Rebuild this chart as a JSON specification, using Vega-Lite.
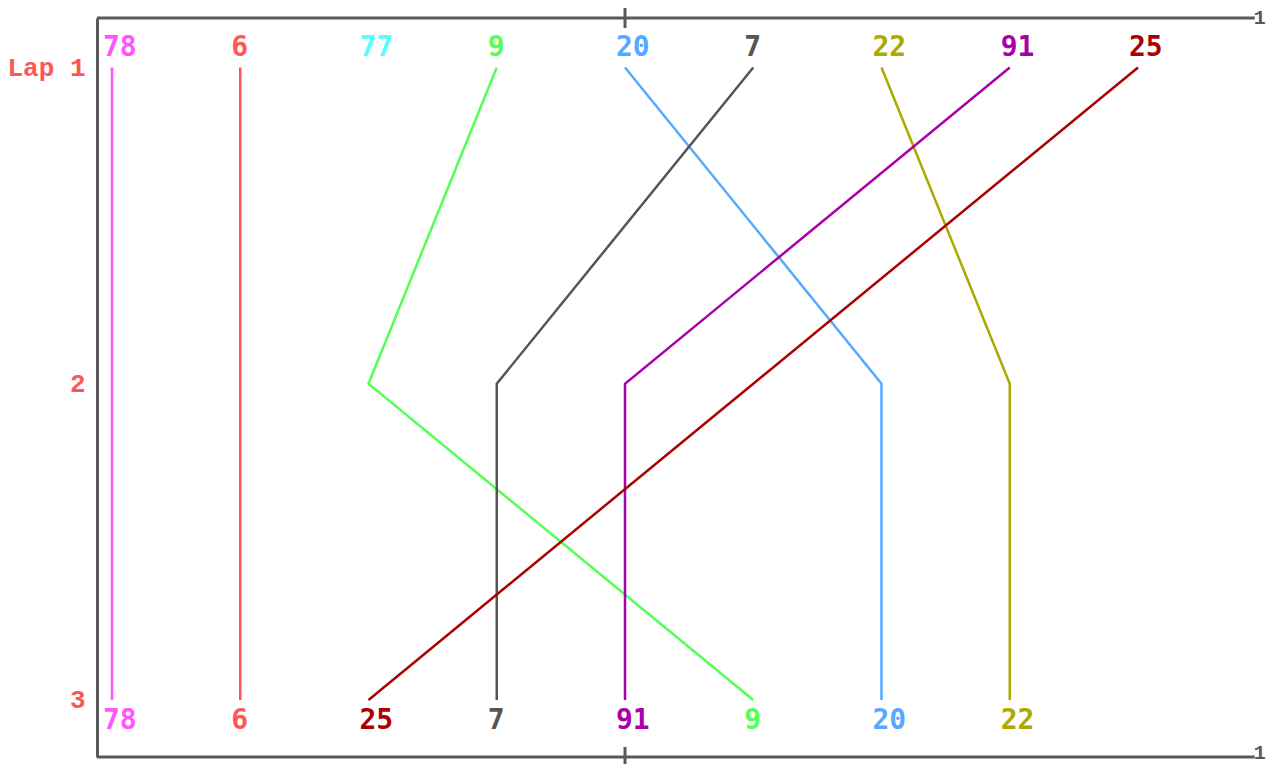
{
  "$schema": "https://vega.github.io/schema/vega-lite/v6.json",
  "autosize": {"type": "none"},
  "padding": {"left": 97, "top": 18, "right": 11, "bottom": 7},
  "width": 1159,
  "height": 739,
  "background": "white",
  "config": {"view": {"stroke": null}},
  "datasets": {
    "laps": [
      {"car": "78", "lap": 1, "pos": 1}, {"car": "78", "lap": 2, "pos": 1}, {"car": "78", "lap": 3, "pos": 1},
      {"car": "6", "lap": 1, "pos": 2}, {"car": "6", "lap": 2, "pos": 2}, {"car": "6", "lap": 3, "pos": 2},
      {"car": "77", "lap": 1, "pos": 3},
      {"car": "9", "lap": 1, "pos": 4}, {"car": "9", "lap": 2, "pos": 3}, {"car": "9", "lap": 3, "pos": 6},
      {"car": "20", "lap": 1, "pos": 5}, {"car": "20", "lap": 2, "pos": 7}, {"car": "20", "lap": 3, "pos": 7},
      {"car": "7", "lap": 1, "pos": 6}, {"car": "7", "lap": 2, "pos": 4}, {"car": "7", "lap": 3, "pos": 4},
      {"car": "22", "lap": 1, "pos": 7}, {"car": "22", "lap": 2, "pos": 8}, {"car": "22", "lap": 3, "pos": 8},
      {"car": "91", "lap": 1, "pos": 8}, {"car": "91", "lap": 2, "pos": 5}, {"car": "91", "lap": 3, "pos": 5},
      {"car": "25", "lap": 1, "pos": 9}, {"car": "25", "lap": 2, "pos": 6}, {"car": "25", "lap": 3, "pos": 3}
    ],
    "frame": [
      {"x": 0.883, "x2": 9.91, "y": 0.8434, "y2": 0.8434},
      {"x": 0.883, "x2": 9.91, "y": 3.1804, "y2": 3.1804},
      {"x": 5, "x2": 5, "y": 0.8118, "y2": 0.875},
      {"x": 5, "x2": 5, "y": 3.1488, "y2": 3.212}
    ],
    "ends": [
      {"x": 9.91, "y": 0.8434, "t": "1", "side": "top"},
      {"x": 9.91, "y": 3.1804, "t": "1", "side": "bottom"}
    ]
  },
  "layer": [
    {
      "data": {"name": "frame"},
      "mark": {"type": "rule", "color": "#5a5a5a", "strokeWidth": 3},
      "encoding": {
        "x": {"field": "x", "type": "quantitative", "scale": {"domain": [0.883, 9.92], "nice": false, "zero": false}, "axis": null},
        "x2": {"field": "x2"},
        "y": {"field": "y", "type": "quantitative", "scale": {"domain": [0.8434, 3.1804], "nice": false, "zero": false, "reverse": true},
          "axis": {"values": [1, 2, 3], "labelExpr": "datum.value == 1 ? 'Lap 1' : format(datum.value, 'd')", "title": null, "grid": false, "ticks": false, "labelPadding": 12,
            "domainColor": "#5a5a5a", "domainWidth": 3, "labelColor": "#ff5555", "labelFont": "Liberation Mono", "labelFontSize": 26, "labelFontWeight": "bold"}},
        "y2": {"field": "y2"}
      }
    },
    {
      "data": {"name": "ends"},
      "transform": [{"filter": "datum.side == 'top'"}],
      "mark": {"type": "text", "align": "left", "baseline": "middle", "dx": -1, "font": "Liberation Mono", "fontSize": 20, "fontWeight": "bold", "color": "#5a5a5a"},
      "encoding": {
        "x": {"field": "x", "type": "quantitative"},
        "y": {"field": "y", "type": "quantitative"},
        "text": {"field": "t"}
      }
    },
    {
      "data": {"name": "ends"},
      "transform": [{"filter": "datum.side == 'bottom'"}],
      "mark": {"type": "text", "align": "left", "baseline": "bottom", "dx": -1, "dy": 6, "font": "Liberation Mono", "fontSize": 20, "fontWeight": "bold", "color": "#5a5a5a"},
      "encoding": {
        "x": {"field": "x", "type": "quantitative"},
        "y": {"field": "y", "type": "quantitative"},
        "text": {"field": "t"}
      }
    },
    {
      "data": {"name": "laps"},
      "mark": {"type": "line", "strokeWidth": 2.5},
      "encoding": {
        "x": {"field": "pos", "type": "quantitative"},
        "y": {"field": "lap", "type": "quantitative"},
        "color": {"field": "car", "type": "nominal", "legend": null,
          "scale": {"domain": ["78", "6", "77", "9", "20", "7", "22", "91", "25"],
                    "range": ["#ff55ff", "#ff5555", "#55ffff", "#55ff55", "#55aaff", "#555555", "#aaaa00", "#aa00aa", "#aa0000"]}},
        "detail": {"field": "car"},
        "order": {"field": "lap", "type": "quantitative"}
      }
    },
    {
      "data": {"name": "laps"},
      "transform": [{"filter": "datum.lap == 1"}],
      "mark": {"type": "text", "align": "left", "baseline": "middle", "dx": -9, "dy": -20, "font": "DejaVu Sans Mono", "fontSize": 28, "fontWeight": "bold"},
      "encoding": {
        "x": {"field": "pos", "type": "quantitative"},
        "y": {"field": "lap", "type": "quantitative"},
        "text": {"field": "car"},
        "color": {"field": "car", "type": "nominal", "legend": null}
      }
    },
    {
      "data": {"name": "laps"},
      "transform": [{"filter": "datum.lap == 3"}],
      "mark": {"type": "text", "align": "left", "baseline": "middle", "dx": -9, "dy": 21, "font": "DejaVu Sans Mono", "fontSize": 28, "fontWeight": "bold"},
      "encoding": {
        "x": {"field": "pos", "type": "quantitative"},
        "y": {"field": "lap", "type": "quantitative"},
        "text": {"field": "car"},
        "color": {"field": "car", "type": "nominal", "legend": null}
      }
    }
  ]
}
